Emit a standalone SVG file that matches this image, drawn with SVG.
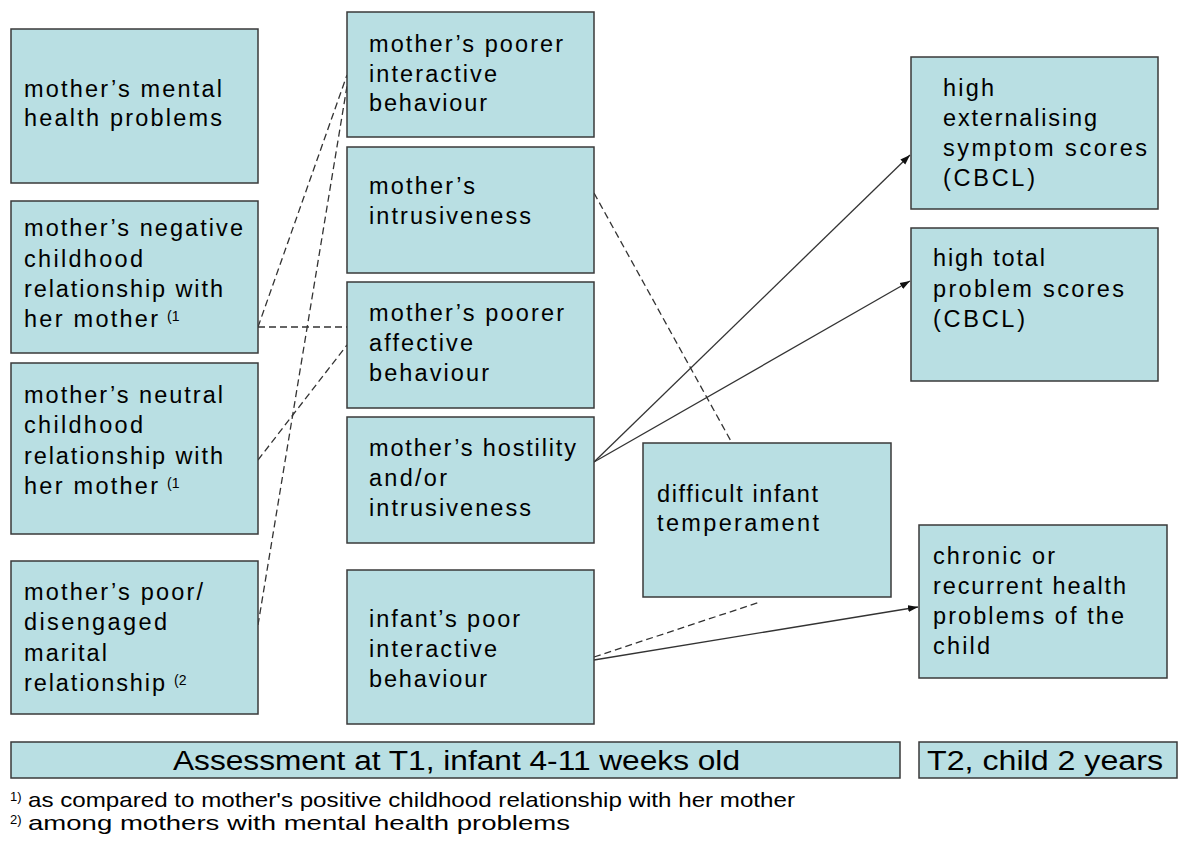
<svg xmlns="http://www.w3.org/2000/svg" width="1182" height="843" viewBox="0 0 1182 843">
<style>
.box{fill:#B9DFE3;stroke:#3a3a3a;stroke-width:1.5}
.t{font-family:"Liberation Sans",Arial,sans-serif;font-size:23.5px;fill:#000}
.sup{font-family:"Liberation Sans",Arial,sans-serif;font-size:14px;fill:#000}
.bar{font-family:"Liberation Sans",Arial,sans-serif;font-size:27px;fill:#000}
.fn{font-family:"Liberation Sans",Arial,sans-serif;font-size:21px;fill:#000}
.fs{font-family:"Liberation Sans",Arial,sans-serif;font-size:13px;fill:#000}
.dash{stroke:#333;stroke-width:1.3;stroke-dasharray:7,4;fill:none}
.solid{stroke:#333;stroke-width:1.3;fill:none}
</style>
<defs>
<marker id="arr" markerUnits="userSpaceOnUse" markerWidth="11" markerHeight="8" refX="10" refY="4" orient="auto">
<path d="M0,0.5 L10,4 L0,7.5 z" fill="#111"/>
</marker>
</defs>
<rect width="1182" height="843" fill="#fff"/>

<g id="connectors">
<line class="dash" x1="258" y1="327" x2="347" y2="75"/>
<line class="dash" x1="258" y1="327" x2="347" y2="327"/>
<line class="dash" x1="258" y1="460" x2="347" y2="345"/>
<line class="dash" x1="258" y1="625" x2="347" y2="86"/>
<line class="dash" x1="594" y1="193" x2="732" y2="443"/>
<line class="dash" x1="594" y1="657" x2="760" y2="602"/>
<line class="solid" x1="594" y1="462" x2="910" y2="155" marker-end="url(#arr)"/>
<line class="solid" x1="594" y1="462" x2="910" y2="281" marker-end="url(#arr)"/>
<line class="solid" x1="594" y1="660" x2="918" y2="607" marker-end="url(#arr)"/>
</g>

<g id="n-mental">
<rect class="box" x="11" y="29" width="247" height="154"/>
<text class="t" x="24" y="97" textLength="198" lengthAdjust="spacing">mother’s mental</text>
<text class="t" x="24" y="126" textLength="198" lengthAdjust="spacing">health problems</text>
</g>

<g id="n-negative">
<rect class="box" x="11" y="201" width="247" height="152"/>
<text class="t" x="24" y="236" textLength="219" lengthAdjust="spacing">mother’s negative</text>
<text class="t" x="24" y="267" textLength="119" lengthAdjust="spacing">childhood</text>
<text class="t" x="24" y="297" textLength="199" lengthAdjust="spacing">relationship with</text>
<text class="t" x="24" y="327" textLength="134" lengthAdjust="spacing">her mother</text>
<text class="sup" x="167" y="321">(1</text>
</g>

<g id="n-neutral">
<rect class="box" x="11" y="363" width="247" height="171"/>
<text class="t" x="24" y="403" textLength="199" lengthAdjust="spacing">mother’s neutral</text>
<text class="t" x="24" y="433" textLength="119" lengthAdjust="spacing">childhood</text>
<text class="t" x="24" y="464" textLength="199" lengthAdjust="spacing">relationship with</text>
<text class="t" x="24" y="494" textLength="134" lengthAdjust="spacing">her mother</text>
<text class="sup" x="167" y="488">(1</text>
</g>

<g id="n-marital">
<rect class="box" x="11" y="561" width="247" height="153"/>
<text class="t" x="24" y="600" textLength="179" lengthAdjust="spacing">mother’s poor/</text>
<text class="t" x="24" y="630" textLength="143" lengthAdjust="spacing">disengaged</text>
<text class="t" x="24" y="661" textLength="83" lengthAdjust="spacing">marital</text>
<text class="t" x="24" y="691" textLength="141" lengthAdjust="spacing">relationship</text>
<text class="sup" x="174" y="685">(2</text>
</g>

<g id="n-interactive">
<rect class="box" x="347" y="12" width="247" height="125"/>
<text class="t" x="369" y="52" textLength="194" lengthAdjust="spacing">mother’s poorer</text>
<text class="t" x="369" y="82" textLength="128" lengthAdjust="spacing">interactive</text>
<text class="t" x="369" y="111" textLength="118" lengthAdjust="spacing">behaviour</text>
</g>

<g id="n-intrusiveness">
<rect class="box" x="347" y="147" width="247" height="126"/>
<text class="t" x="369" y="194" textLength="106" lengthAdjust="spacing">mother’s</text>
<text class="t" x="369" y="224" textLength="162" lengthAdjust="spacing">intrusiveness</text>
</g>

<g id="n-affective">
<rect class="box" x="347" y="282" width="247" height="126"/>
<text class="t" x="369" y="321" textLength="195" lengthAdjust="spacing">mother’s poorer</text>
<text class="t" x="369" y="351" textLength="104" lengthAdjust="spacing">affective</text>
<text class="t" x="369" y="381" textLength="120" lengthAdjust="spacing">behaviour</text>
</g>

<g id="n-hostility">
<rect class="box" x="347" y="417" width="247" height="126"/>
<text class="t" x="369" y="456" textLength="207" lengthAdjust="spacing">mother’s hostility</text>
<text class="t" x="369" y="486" textLength="78" lengthAdjust="spacing">and/or</text>
<text class="t" x="369" y="516" textLength="162" lengthAdjust="spacing">intrusiveness</text>
</g>

<g id="n-infant">
<rect class="box" x="347" y="570" width="247" height="154"/>
<text class="t" x="369" y="627" textLength="151" lengthAdjust="spacing">infant’s poor</text>
<text class="t" x="369" y="657" textLength="128" lengthAdjust="spacing">interactive</text>
<text class="t" x="369" y="687" textLength="118" lengthAdjust="spacing">behaviour</text>
</g>

<g id="n-temperament">
<rect class="box" x="643" y="443" width="248" height="154"/>
<text class="t" x="657" y="502" textLength="161" lengthAdjust="spacing">difficult infant</text>
<text class="t" x="657" y="531" textLength="162" lengthAdjust="spacing">temperament</text>
</g>

<g id="n-externalising">
<rect class="box" x="911" y="57" width="247" height="152"/>
<text class="t" x="943" y="96" textLength="51" lengthAdjust="spacing">high</text>
<text class="t" x="943" y="126" textLength="154" lengthAdjust="spacing">externalising</text>
<text class="t" x="943" y="156" textLength="204" lengthAdjust="spacing">symptom scores</text>
<text class="t" x="943" y="186" textLength="92" lengthAdjust="spacing">(CBCL)</text>
</g>

<g id="n-total">
<rect class="box" x="911" y="228" width="247" height="153"/>
<text class="t" x="933" y="266" textLength="112" lengthAdjust="spacing">high total</text>
<text class="t" x="933" y="297" textLength="191" lengthAdjust="spacing">problem scores</text>
<text class="t" x="933" y="327" textLength="92" lengthAdjust="spacing">(CBCL)</text>
</g>

<g id="n-health">
<rect class="box" x="919" y="525" width="248" height="153"/>
<text class="t" x="933" y="564" textLength="122" lengthAdjust="spacing">chronic or</text>
<text class="t" x="933" y="594" textLength="193" lengthAdjust="spacing">recurrent health</text>
<text class="t" x="933" y="624" textLength="191" lengthAdjust="spacing">problems of the</text>
<text class="t" x="933" y="654" textLength="57" lengthAdjust="spacing">child</text>
</g>

<g id="bar-t1">
<rect class="box" x="11" y="742" width="889" height="36"/>
<text class="bar" x="173" y="770" textLength="567" lengthAdjust="spacingAndGlyphs">Assessment at T1, infant 4-11 weeks old</text>
</g>

<g id="bar-t2">
<rect class="box" x="919" y="742" width="258" height="36"/>
<text class="bar" x="927" y="770" textLength="236" lengthAdjust="spacingAndGlyphs">T2, child 2 years</text>
</g>

<g id="footnotes">
<text class="fs" x="10" y="801">1)</text>
<text class="fn" x="28" y="807" textLength="767" lengthAdjust="spacingAndGlyphs">as compared to mother's positive childhood relationship with her mother</text>
<text class="fs" x="10" y="824">2)</text>
<text class="fn" x="28" y="830" textLength="542" lengthAdjust="spacingAndGlyphs">among mothers with mental health problems</text>
</g>
</svg>
